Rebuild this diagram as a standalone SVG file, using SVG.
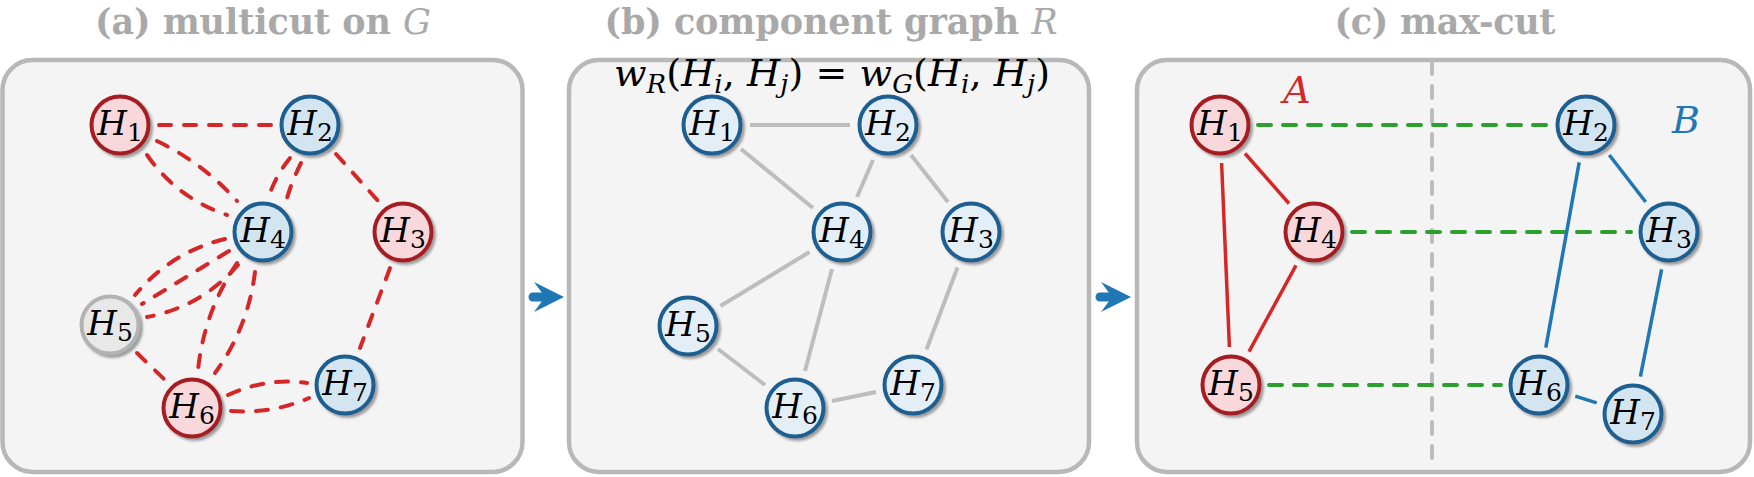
<svg xmlns="http://www.w3.org/2000/svg" width="1754" height="477" viewBox="0 0 1754 477">
<defs>
<filter id="sh" x="-30%" y="-30%" width="160%" height="160%">
<feDropShadow dx="2.5" dy="2.5" stdDeviation="1" flood-color="#808080" flood-opacity="0.75"/>
</filter>
<style>
.box{fill:#f4f4f4;stroke:#b8b8b8;stroke-width:4.5}
.nr{fill:#f8d8da;stroke:#a51c21;stroke-width:4;filter:url(#sh)}
.nb{fill:#d4e5f2;stroke:#1c5e90;stroke-width:4;filter:url(#sh)}
.nl{fill:#e3eef7;stroke:#1c5e90;stroke-width:4;filter:url(#sh)}
.ng{fill:#e8e8e8;stroke:#b3b3b3;stroke-width:4;filter:url(#sh)}
.lbl{font-size:34px;text-anchor:middle;fill:#000}
.it{font-style:italic}
.sub{font-size:25px}
.ttl{font-size:35px;font-weight:bold;fill:#a9a9a9;text-anchor:middle}
.fm{font-size:38px;fill:#000;text-anchor:middle}
.ed{fill:none;stroke:#d62728;stroke-width:4;stroke-dasharray:12 13;stroke-linecap:round}
.eg{fill:none;stroke:#bdbdbd;stroke-width:4}
.er{fill:none;stroke:#d62728;stroke-width:3.5}
.eb{fill:none;stroke:#1f77b4;stroke-width:3.5}
.egr{fill:none;stroke:#2ca02c;stroke-width:4;stroke-dasharray:13 12;stroke-linecap:round}
.div{fill:none;stroke:#bdbdbd;stroke-width:4;stroke-dasharray:12 12;stroke-linecap:round}
.arr{fill:#1f77b4}
.arrs{stroke:#1f77b4;stroke-width:9;stroke-linecap:round}
</style>
</defs>
<rect width="1754" height="477" fill="#ffffff"/>

<g id="titles" font-family="DejaVu Serif, serif">
<text class="ttl" x="263" y="34" textLength="336" lengthAdjust="spacing">(a) multicut on <tspan font-style="italic" font-weight="normal">G</tspan></text>
<text class="ttl" x="831" y="34" textLength="453" lengthAdjust="spacing">(b) component graph <tspan font-style="italic" font-weight="normal">R</tspan></text>
<text class="ttl" x="1445" y="34" textLength="221" lengthAdjust="spacing">(c) max-cut</text>
</g>

<g id="panels">
<rect class="box" x="2.5" y="60" width="520" height="412" rx="30"/>
<rect class="box" x="569" y="60" width="520" height="412" rx="30"/>
<rect class="box" x="1137" y="60" width="613" height="412" rx="30"/>
</g>

<g id="formula" font-family="DejaVu Serif, serif">
<text class="fm" x="832" y="86" textLength="436" lengthAdjust="spacing"><tspan class="it">w</tspan><tspan class="it" font-size="26" dy="7">R</tspan><tspan dy="-7">(</tspan><tspan class="it">H</tspan><tspan class="it" font-size="26" dy="7">i</tspan><tspan dy="-7">, </tspan><tspan class="it">H</tspan><tspan class="it" font-size="26" dy="7">j</tspan><tspan dy="-7">) = </tspan><tspan class="it">w</tspan><tspan class="it" font-size="26" dy="7">G</tspan><tspan dy="-7">(</tspan><tspan class="it">H</tspan><tspan class="it" font-size="26" dy="7">i</tspan><tspan dy="-7">, </tspan><tspan class="it">H</tspan><tspan class="it" font-size="26" dy="7">j</tspan><tspan dy="-7">)</tspan></text>
</g>

<g id="connectors">
<path class="ed" d="M159,125 L272,125"/>
<path class="ed" d="M157,141 Q203,163 237,201"/>
<path class="ed" d="M147,155 Q177,198 227,215"/>
<path class="ed" d="M290,158 Q277,174 270,193"/>
<path class="ed" d="M301,163 Q292,181 287,198"/>
<path class="ed" d="M336,154 L379,202"/>
<path class="ed" d="M390,268 L360,348"/>
<path class="ed" d="M225,239 Q171,252 135,295"/>
<path class="ed" d="M229,251 L142,304"/>
<path class="ed" d="M238,265 Q201,307 147,317"/>
<path class="ed" d="M237,263 Q204,312 198,370"/>
<path class="ed" d="M255,272 Q248,328 215,373"/>
<path class="ed" d="M137,353 L165,380"/>
<path class="ed" d="M228,395 Q267,377 307,383"/>
<path class="ed" d="M231,411 Q272,414 309,398"/>
<path class="eg" d="M750,125 L850,125"/>
<path class="eg" d="M741,149 L813,208"/>
<path class="eg" d="M873,160 L857,197"/>
<path class="eg" d="M911,155 L948,202"/>
<path class="eg" d="M809.5,252 L720.5,306"/>
<path class="eg" d="M832,269 L805,371"/>
<path class="eg" d="M957.5,267.5 L926.5,349.5"/>
<path class="eg" d="M718,349 L765,385"/>
<path class="eg" d="M832,401 L876,392"/>
<path class="div" d="M1432,62 L1432,470"/>
<path class="egr" d="M1258,125 L1548,125"/>
<path class="egr" d="M1352,232 L1631,232"/>
<path class="egr" d="M1269,385 L1501,385"/>
<path class="er" d="M1245,153.5 L1289,203.5"/>
<path class="er" d="M1221.6,163 L1229.4,347"/>
<path class="er" d="M1296,265.4 L1249,351.6"/>
<path class="eb" d="M1609.3,155 L1645.7,202"/>
<path class="eb" d="M1579.2,162.4 L1545.8,347.6"/>
<path class="eb" d="M1661.6,269.3 L1640.4,376.7"/>
<path class="eb" d="M1575.3,396.2 L1596.7,402.8"/>
<line class="arrs" x1="533" y1="297" x2="546" y2="297"/>
<path class="arr" d="M564,297 L534,282 L545,297 L534,312 Z"/>
<line class="arrs" x1="1100" y1="297" x2="1113" y2="297"/>
<path class="arr" d="M1131,297 L1101,282 L1112,297 L1101,312 Z"/>
</g>

<g font-family="DejaVu Serif, serif">
<g id="a-H1"><circle class="nr" cx="120" cy="125" r="28.5"/><text class="lbl" x="120" y="135"><tspan class="it">H</tspan><tspan class="sub" dy="6">1</tspan></text></g>
<g id="a-H2"><circle class="nb" cx="310" cy="125" r="28.5"/><text class="lbl" x="310" y="135"><tspan class="it">H</tspan><tspan class="sub" dy="6">2</tspan></text></g>
<g id="a-H3"><circle class="nr" cx="403" cy="232" r="28.5"/><text class="lbl" x="403" y="242"><tspan class="it">H</tspan><tspan class="sub" dy="6">3</tspan></text></g>
<g id="a-H4"><circle class="nb" cx="263" cy="232" r="28.5"/><text class="lbl" x="263" y="242"><tspan class="it">H</tspan><tspan class="sub" dy="6">4</tspan></text></g>
<g id="a-H5"><circle class="ng" cx="110" cy="325" r="28.5"/><text class="lbl" x="110" y="335"><tspan class="it">H</tspan><tspan class="sub" dy="6">5</tspan></text></g>
<g id="a-H6"><circle class="nr" cx="192" cy="408" r="28.5"/><text class="lbl" x="192" y="418"><tspan class="it">H</tspan><tspan class="sub" dy="6">6</tspan></text></g>
<g id="a-H7"><circle class="nb" cx="345" cy="385" r="28.5"/><text class="lbl" x="345" y="395"><tspan class="it">H</tspan><tspan class="sub" dy="6">7</tspan></text></g>

<g id="b-H1"><circle class="nl" cx="712" cy="125" r="28.5"/><text class="lbl" x="712" y="135"><tspan class="it">H</tspan><tspan class="sub" dy="6">1</tspan></text></g>
<g id="b-H2"><circle class="nl" cx="888" cy="125" r="28.5"/><text class="lbl" x="888" y="135"><tspan class="it">H</tspan><tspan class="sub" dy="6">2</tspan></text></g>
<g id="b-H3"><circle class="nl" cx="971" cy="232" r="28.5"/><text class="lbl" x="971" y="242"><tspan class="it">H</tspan><tspan class="sub" dy="6">3</tspan></text></g>
<g id="b-H4"><circle class="nl" cx="842" cy="232" r="28.5"/><text class="lbl" x="842" y="242"><tspan class="it">H</tspan><tspan class="sub" dy="6">4</tspan></text></g>
<g id="b-H5"><circle class="nl" cx="688" cy="326" r="28.5"/><text class="lbl" x="688" y="336"><tspan class="it">H</tspan><tspan class="sub" dy="6">5</tspan></text></g>
<g id="b-H6"><circle class="nl" cx="795" cy="408" r="28.5"/><text class="lbl" x="795" y="418"><tspan class="it">H</tspan><tspan class="sub" dy="6">6</tspan></text></g>
<g id="b-H7"><circle class="nl" cx="913" cy="385" r="28.5"/><text class="lbl" x="913" y="395"><tspan class="it">H</tspan><tspan class="sub" dy="6">7</tspan></text></g>

<g id="c-H1"><circle class="nr" cx="1220" cy="125" r="28.5"/><text class="lbl" x="1220" y="135"><tspan class="it">H</tspan><tspan class="sub" dy="6">1</tspan></text></g>
<g id="c-H2"><circle class="nb" cx="1586" cy="125" r="28.5"/><text class="lbl" x="1586" y="135"><tspan class="it">H</tspan><tspan class="sub" dy="6">2</tspan></text></g>
<g id="c-H3"><circle class="nb" cx="1669" cy="232" r="28.5"/><text class="lbl" x="1669" y="242"><tspan class="it">H</tspan><tspan class="sub" dy="6">3</tspan></text></g>
<g id="c-H4"><circle class="nr" cx="1314" cy="232" r="28.5"/><text class="lbl" x="1314" y="242"><tspan class="it">H</tspan><tspan class="sub" dy="6">4</tspan></text></g>
<g id="c-H5"><circle class="nr" cx="1231" cy="385" r="28.5"/><text class="lbl" x="1231" y="395"><tspan class="it">H</tspan><tspan class="sub" dy="6">5</tspan></text></g>
<g id="c-H6"><circle class="nb" cx="1539" cy="385" r="28.5"/><text class="lbl" x="1539" y="395"><tspan class="it">H</tspan><tspan class="sub" dy="6">6</tspan></text></g>
<g id="c-H7"><circle class="nb" cx="1633" cy="414" r="28.5"/><text class="lbl" x="1633" y="424"><tspan class="it">H</tspan><tspan class="sub" dy="6">7</tspan></text></g>
</g>

<g id="set-labels" font-family="DejaVu Serif, serif">
<text x="1297" y="103" font-size="38" font-style="italic" fill="#d62728" text-anchor="middle">A</text>
<text x="1686" y="133" font-size="38" font-style="italic" fill="#1f77b4" text-anchor="middle">B</text>
</g>
</svg>
